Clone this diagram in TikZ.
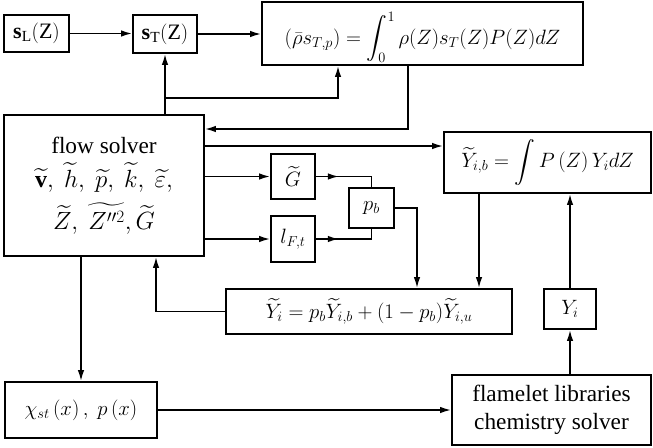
\documentclass[tikz,border=0pt]{standalone}
\usepackage{amsmath}
\usepackage{fontspec}
\setmainfont{Liberation Serif}
\usetikzlibrary{arrows.meta,decorations.markings,calc}
\begin{document}
\begin{tikzpicture}[x=1pt,y=-1pt, line width=1.6pt,
  box/.style={draw, line width=1.8pt, inner sep=0pt, font=\fontsize{22}{27}\selectfont, anchor=center},
  textbox/.style={box, align=center, font=\fontsize{23.3}{28}\selectfont},
  arr/.style={-{Latex[length=11pt,width=6.5pt]}},
  midarr/.style={postaction={decorate}, decoration={markings, mark=at position 23pt with {\arrow{Latex[length=11pt,width=6.5pt]}}}}]
\useasboundingbox (0,0) rectangle (653,447);

\node[box, minimum width=65pt, minimum height=37pt] (sL) at (36.5,33.5) {$\mathbf{s}_{\mathrm{L}}(\mathrm{Z})$};
\node[box, minimum width=64pt, minimum height=38pt] (sT) at (165,34) {$\mathbf{s}_{\mathrm{T}}(\mathrm{Z})$};
\node[box, minimum width=321pt, minimum height=63pt] (int) at (422.5,33.5) {\raisebox{-4pt}[\height][\depth]{$\displaystyle(\bar{\rho}s_{T,p})=\int_0^1\rho(Z)s_T(Z)P(Z)dZ$}};
\node[textbox, minimum width=200pt, minimum height=141pt] (flow) at (104,185.5) {flow solver\\[6pt] {\fontsize{24}{28}\selectfont$\widetilde{\mathbf{v}},\ \widetilde{h},\ \widetilde{p},\ \widetilde{k},\ \widetilde{\varepsilon},$}\\[10pt] {\fontsize{24}{28}\selectfont$\widetilde{Z},\ \widetilde{Z''^2},\widetilde{G}$}};
\node[box, minimum width=44pt, minimum height=45pt] (G) at (293,176.5) {$\widetilde{G}$};
\node[box, minimum width=44pt, minimum height=46pt] (lF) at (293,239) {$l_{F,t}$};
\node[box, minimum width=45pt, minimum height=40pt] (pb) at (371.5,208) {$p_b$};
\node[box, minimum width=207pt, minimum height=61pt] (Yib) at (547.5,162.5) {$\displaystyle\widetilde{Y}_{i,b}=\int P\left(Z\right)Y_i dZ$};
\node[box, minimum width=286pt, minimum height=45pt] (Yeq) at (369,311.5) {$\widetilde{Y}_i=p_b\widetilde{Y}_{i,b}+(1-p_b)\widetilde{Y}_{i,u}$};
\node[box, minimum width=52pt, minimum height=40pt] (Yi) at (570,309) {$Y_i$};
\node[box, minimum width=152pt, minimum height=56pt] (chi) at (81,410) {$\chi_{st}\left(x\right),\ p\left(x\right)$};
\node[textbox, minimum width=199pt, minimum height=70pt] (flam) at (551.5,410) {flamelet libraries\\chemistry solver};

\coordinate (h98) at (0,98);
\coordinate (v338) at (338,0);
\coordinate (v408) at (408,0);
\coordinate (h129) at (0,129);
\coordinate (h146) at (0,146);
\coordinate (v417) at (417,0);
\coordinate (v479) at (479,0);
\coordinate (v156) at (156,0);

\draw[arr] (sL.east) -- (sL.east -| sT.west);
\draw[arr] (sT.east) -- (sT.east -| int.west);
\draw[arr] (flow.north -| sT.south) -- (sT.south);
\draw[arr] (sT.south |- h98) -| (int.south -| v338);
\draw[arr] (int.south -| v408) |- (flow.east |- h129);
\draw[arr] (flow.east |- h146) -- (Yib.west |- h146);
\draw[arr] (flow.east |- G.west) -- (G.west);
\draw[arr] (flow.east |- lF.west) -- (lF.west);
\draw[midarr] (G.east) -| (pb.north);
\draw[midarr] (lF.east) -| (pb.south);
\draw[arr] (pb.east) -| (Yeq.north -| v417);
\draw[arr] (Yib.south -| v479) -- (Yeq.north -| v479);
\draw[arr] (Yeq.west) -| (flow.south -| v156);
\draw[arr] (flow.south -| chi.north) -- (chi.north);
\draw[arr] (chi.east) -- (chi.east -| flam.west);
\draw[arr] (flam.north -| Yi.south) -- (Yi.south);
\draw[arr] (Yi.north) -- (Yi.north |- Yib.south);
\end{tikzpicture}
\end{document}
